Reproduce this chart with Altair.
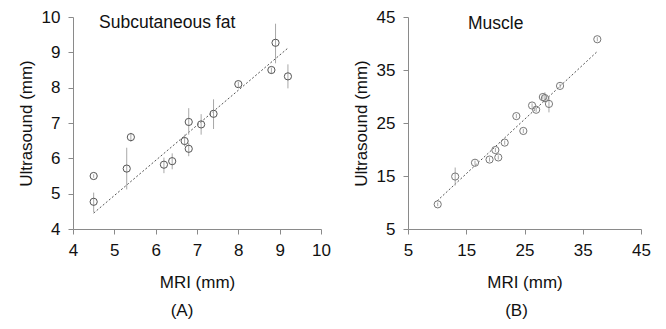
import altair as alt
import pandas as pd

# Panel A: subcutaneous fat
fat_mri = [4.5, 4.5, 5.3, 5.4, 6.2, 6.4, 6.7, 6.8, 6.8, 7.1, 7.4, 8.0, 8.8, 8.9, 9.2]
fat_us = [5.5, 4.77, 5.71, 6.6, 5.82, 5.92, 6.49, 7.03, 6.27, 6.96, 7.26, 8.1, 8.5, 9.27, 8.32]
fat_lo = [5.45, 4.47, 5.12, 6.47, 5.58, 5.69, 6.34, 6.67, 6.06, 6.67, 6.83, 8.01, 8.39, 8.69, 7.98]
fat_hi = [5.55, 5.03, 6.30, 6.72, 6.02, 6.14, 6.67, 7.42, 6.44, 7.25, 7.67, 8.17, 8.57, 9.81, 8.66]
fat_fit_x = [4.5, 9.2]
fat_fit_y = [4.45, 9.12]

# Panel B: muscle
mus_mri = [10.1, 13.1, 16.5, 19.0, 20.0, 20.5, 21.6, 23.6, 24.8, 26.3, 27.0, 28.15, 28.5, 29.2, 31.1, 37.5]
mus_us = [9.65, 14.9, 17.5, 18.1, 19.9, 18.5, 21.3, 26.3, 23.5, 28.3, 27.5, 29.9, 29.7, 28.6, 32.0, 40.8]
mus_lo = [9.3, 13.2, 17.1, 17.7, 19.5, 18.1, 20.9, 25.9, 23.1, 27.9, 27.1, 29.5, 28.9, 27.0, 31.6, 40.4]
mus_hi = [10.0, 16.6, 17.9, 18.5, 20.3, 18.9, 21.7, 26.7, 23.9, 28.7, 27.9, 30.3, 30.8, 30.0, 32.4, 41.2]
mus_fit_x = [10.0, 37.5]
mus_fit_y = [10.3, 38.5]

FONT = "Liberation Sans"


def panel(mri, us, lo, hi, fx, fy, dom, step, label, lx, ly, title, w, h, dx, circ):
    df = pd.DataFrame({"mri": mri, "us": us, "lo": lo, "hi": hi})
    fit = pd.DataFrame({"mri": fx, "us": fy})
    ann = pd.DataFrame({"mri": [lx], "us": [ly], "t": [label]})
    ticks = list(range(dom[0], dom[1] + 1, step))
    xs = alt.Scale(domain=dom, nice=False, zero=False)
    ys = alt.Scale(domain=dom, nice=False, zero=False)
    xax = alt.Axis(values=ticks, title="MRI (mm)", grid=False, labelOverlap=False,
                   labelFlush=False)
    yax = alt.Axis(values=ticks, title="Ultrasound (mm)", grid=False, labelOverlap=False,
                   labelFlush=False)
    X = lambda f: alt.X(f, type="quantitative", scale=xs, axis=xax)
    Y = lambda f: alt.Y(f, type="quantitative", scale=ys, axis=yax)
    base = alt.Chart(df)
    err = base.mark_rule(color="#a8a8a8", strokeWidth=1).encode(
        x=X("mri"), y=Y("lo"), y2="hi:Q")
    pts = base.mark_point(shape="circle", filled=False, size=52, color=circ,
                          strokeWidth=1, opacity=1).encode(x=X("mri"), y=Y("us"))
    line = alt.Chart(fit).mark_line(color="#555555", strokeWidth=1, strokeDash=[2, 2]).encode(
        x=X("mri"), y=Y("us"))
    txt = alt.Chart(ann).mark_text(align="left", baseline="middle", fontSize=17.5,
                                   font=FONT, color="#111111").encode(
        x=X("mri"), y=Y("us"), text="t:N")
    return alt.layer(line, err, pts, txt).properties(
        width=w, height=h,
        title=alt.TitleParams(title, orient="bottom", anchor="middle", frame="group",
                              fontSize=17, font=FONT, fontWeight="normal",
                              color="#111111", offset=13, dx=dx),
    )


a = panel(fat_mri, fat_us, fat_lo, fat_hi, fat_fit_x, fat_fit_y, [4, 10], 1,
          "Subcutaneous fat", 4.63, 9.83, "(A)", 248, 212, -15, "#555555")
b = panel(mus_mri, mus_us, mus_lo, mus_hi, mus_fit_x, mus_fit_y, [5, 45], 10,
          "Muscle", 15.3, 43.7, "(B)", 233, 212, -8, "#777777")

chart = alt.hconcat(a, b, spacing=21).properties(
    padding={"left": 9, "top": 0, "right": 2, "bottom": 0}
).configure_view(stroke=None).configure_axis(
    domainColor="#8a8a8a", tickColor="#8a8a8a", tickSize=5,
    labelFont=FONT, titleFont=FONT, labelFontSize=17, titleFontSize=17,
    labelColor="#111111", titleColor="#111111", titleFontWeight="normal",
    labelPadding=8,
).configure_axisY(titlePadding=6).configure_axisX(titlePadding=16)

chart.save("out.html", embed_options={"renderer": "svg", "actions": False})
